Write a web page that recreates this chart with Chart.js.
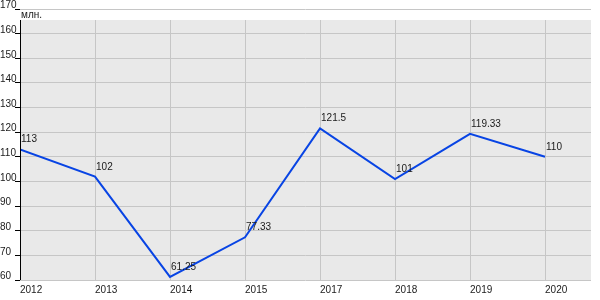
<!DOCTYPE html>
<html>
<head>
<meta charset="utf-8">
<script src="https://cdn.jsdelivr.net/npm/chart.js@4/dist/chart.umd.min.js"></script>
<style>
  html, body { margin: 0; padding: 0; background: #fff; }
  #wrap { width: 600px; height: 300px; }
</style>
</head>
<body>
<div id="wrap"><canvas id="myChart" width="600" height="300"></canvas></div>
<script>
const years = ['2012', '2013', '2014', '2015', '2017', '2018', '2019', '2020'];
const values = [113, 102, 61.25, 77.33, 121.5, 101, 119.33, 110];
const unitLabel = 'млн.';
const Y_MIN = 60;
const Y_MAX = 170;
const Y_STEP = 10;

const FONT = '"Liberation Sans", Arial, sans-serif';
const FONT_SIZE = 10;
const LINE_COLOR = '#0844e4';
const PLOT_BG = '#e9e9e9';
const GRID_COLOR = '#c6c6c6';
const TEXT_COLOR = '#1a1a1a';
const PANEL_GAP = 11; // grey panel starts this far below the top tick

// grey plot panel, vertical gridlines inside it, black y axis line
const panelPlugin = {
  id: 'panel',
  beforeDraw(chart) {
    const {ctx, chartArea} = chart;
    const top = chartArea.top + PANEL_GAP;
    ctx.save();
    ctx.fillStyle = PLOT_BG;
    ctx.fillRect(chartArea.left, top, chartArea.right - chartArea.left, chartArea.bottom - top);
    ctx.restore();
  },
  beforeDatasetsDraw(chart) {
    const {ctx, chartArea, scales} = chart;
    const top = chartArea.top + PANEL_GAP;
    ctx.save();
    ctx.strokeStyle = GRID_COLOR;
    ctx.lineWidth = 1;
    ctx.beginPath();
    years.forEach((y, i) => {
      const x = Math.round(scales.x.getPixelForValue(i)) + 0.5;
      ctx.moveTo(x, top);
      ctx.lineTo(x, chartArea.bottom);
    });
    ctx.stroke();
    ctx.restore();
  },
  afterDraw(chart) {
    const {ctx, chartArea} = chart;
    const top = chartArea.top + PANEL_GAP;
    ctx.save();
    ctx.strokeStyle = '#000';
    ctx.lineWidth = 1;
    ctx.beginPath();
    ctx.moveTo(chartArea.left + 0.5, top);
    ctx.lineTo(chartArea.left + 0.5, chartArea.bottom);
    ctx.stroke();
    // unit label under the top gridline
    ctx.fillStyle = TEXT_COLOR;
    ctx.font = FONT_SIZE + 'px ' + FONT;
    ctx.textAlign = 'left';
    ctx.textBaseline = 'top';
    ctx.fillText(unitLabel, chartArea.left + 1, chartArea.top + 1);
    ctx.restore();
  }
};

// value labels above-right of each point
const valueLabels = {
  id: 'valueLabels',
  afterDatasetsDraw(chart) {
    const {ctx} = chart;
    const meta = chart.getDatasetMeta(0);
    ctx.save();
    ctx.fillStyle = TEXT_COLOR;
    ctx.font = FONT_SIZE + 'px ' + FONT;
    ctx.textAlign = 'left';
    ctx.textBaseline = 'alphabetic';
    meta.data.forEach((pt, i) => {
      ctx.fillText(String(values[i]), pt.x + 1, pt.y - 7);
    });
    ctx.restore();
  }
};

const data = {
  datasets: [{
    label: 'values',
    data: values.map((v, i) => ({x: i, y: v})),
    borderColor: LINE_COLOR,
    borderWidth: 2,
    pointRadius: 0,
    tension: 0,
    fill: false
  }]
};

const config = {
  type: 'line',
  data: data,
  options: {
    responsive: false,
    animation: false,
    layout: { padding: {left: 0, right: 9, top: 9, bottom: 0} },
    plugins: {
      legend: { display: false },
      tooltip: { enabled: false }
    },
    scales: {
      x: {
        type: 'linear',
        min: 0,
        max: 7.613,
        afterBuildTicks(scale) {
          scale.ticks = years.map((y, i) => ({value: i}));
        },
        afterFit(scale) { scale.height = 20; },
        border: { display: false },
        grid: { display: false, drawTicks: false },
        ticks: {
          align: 'start',
          padding: 4,
          color: TEXT_COLOR,
          font: { family: FONT, size: FONT_SIZE },
          callback: (v) => years[v] ?? ''
        }
      },
      y: {
        min: Y_MIN,
        max: Y_MAX,
        afterFit(scale) { scale.width = 20; },
        border: { display: false },
        grid: { color: GRID_COLOR, tickColor: '#000', tickLength: 5 },
        ticks: {
          stepSize: Y_STEP,
          crossAlign: 'far',
          labelOffset: -3.5,
          padding: 0,
          color: TEXT_COLOR,
          font: { family: FONT, size: FONT_SIZE }
        }
      }
    }
  },
  plugins: [panelPlugin, valueLabels]
};

const ctx = document.getElementById('myChart').getContext('2d');
const chart = new Chart(ctx, config);
</script>
</body>
</html>
